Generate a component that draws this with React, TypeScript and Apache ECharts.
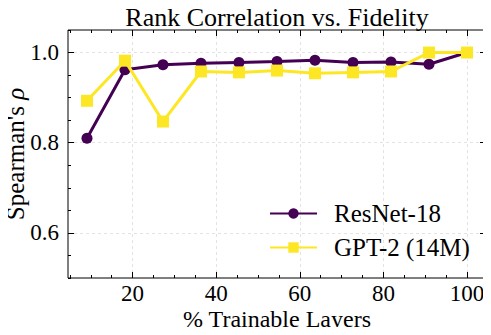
import React, { useEffect, useRef } from "react";
import * as echarts from "echarts";

const xValues = [9.09, 18.18, 27.27, 36.36, 45.45, 54.55, 63.64, 72.73, 81.82, 90.91, 100];
const resnet = [0.81, 0.962, 0.973, 0.976, 0.978, 0.98, 0.983, 0.978, 0.979, 0.974, 1.0];
const gpt2 = [0.893, 0.982, 0.847, 0.958, 0.956, 0.96, 0.954, 0.956, 0.958, 1.0, 1.0];
const xMajor = [20, 40, 60, 80, 100];
const xMinor = [5, 10, 15, 25, 30, 35, 45, 50, 55, 65, 70, 75, 85, 90, 95];
const yMajor = [0.6, 0.8, 1.0];
const yMinor = [0.5, 0.55, 0.65, 0.7, 0.75, 0.85, 0.9, 0.95, 1.05];

const FONT = "Liberation Serif";
const PURPLE = "#440154";
const YELLOW = "#fde725";

export default function App() {
  const ref = useRef<HTMLDivElement>(null);
  useEffect(() => {
    if (!ref.current) return;
    const chart = echarts.init(ref.current, undefined, { renderer: "svg" });
    const xmin = 4.55, xmax = 104.55, ymin = 0.5, ymax = 1.05;
    const baseAxis = (type: "x" | "y") => ({
      type: "value",
      min: type === "x" ? xmin : ymin,
      max: type === "x" ? xmax : ymax,
      axisLine: { show: false },
    });
    const majorTick = (vals: number[]) => ({
      show: true,
      inside: true,
      length: 6,
      customValues: vals,
      lineStyle: { color: "#000", width: 1 },
    });
    const minorTick = (vals: number[]) => ({
      show: true,
      inside: true,
      length: 3,
      customValues: vals,
      lineStyle: { color: "#000", width: 1 },
    });
    const grid = { show: true, lineStyle: { color: "#dcdcdc", type: [3, 3], width: 0.8 } };
    chart.setOption({
      animation: false,
      backgroundColor: "#fff",
      title: {
        text: "Rank Correlation vs. Fidelity",
        left: 277,
        textAlign: "center",
        top: 4,
        padding: 0,
        textStyle: { fontFamily: FONT, fontSize: 26, fontWeight: "normal", color: "#000" },
      },
      grid: {
        left: 68,
        right: 5,
        top: 30,
        bottom: 57,
        outerBoundsMode: "none",
        containLabel: false,
        show: true,
        borderColor: "#000",
        borderWidth: 1,
      },
      legend: {
        left: 264,
        top: 196,
        orient: "vertical",
        itemWidth: 47,
        itemHeight: 13,
        itemGap: 9,
        textStyle: { fontFamily: FONT, fontSize: 25, color: "#000", padding: [0, 0, 0, 12] },
        data: ["ResNet-18", "GPT-2 (14M)"],
      },
      xAxis: [
        {
          ...baseAxis("x"),
          position: "bottom",
          name: "% Trainable Layers",
          nameLocation: "middle",
          nameGap: 29,
          nameMoveOverlap: false,
          nameTextStyle: { fontFamily: FONT, fontSize: 24, color: "#000" },
          axisTick: majorTick(xMajor),
          axisLabel: {
            customValues: xMajor,
            margin: 4,
            fontFamily: FONT,
            fontSize: 23,
            color: "#000",
          },
          splitLine: grid,
        },
        {
          ...baseAxis("x"),
          position: "bottom",
          axisTick: minorTick(xMinor),
          axisLabel: { show: false },
          splitLine: { show: false },
        },
        {
          ...baseAxis("x"),
          position: "top",
          axisTick: majorTick(xMajor),
          axisLabel: { show: false },
          splitLine: { show: false },
        },
        {
          ...baseAxis("x"),
          position: "top",
          axisTick: minorTick(xMinor),
          axisLabel: { show: false },
          splitLine: { show: false },
        },
      ],
      yAxis: [
        {
          ...baseAxis("y"),
          position: "left",
          name: "Spearman's {i|ρ}",
          nameLocation: "middle",
          nameGap: 40,
          nameMoveOverlap: false,
          nameRotate: 90,
          nameTextStyle: {
            fontFamily: FONT,
            fontSize: 25,
            color: "#000",
            rich: { i: { fontFamily: FONT, fontStyle: "italic", fontSize: 25, color: "#000" } },
          },
          axisTick: majorTick(yMajor),
          axisLabel: {
            customValues: yMajor,
            margin: 9,
            fontFamily: FONT,
            fontSize: 23,
            color: "#000",
            formatter: (v: number) => v.toFixed(1),
          },
          splitLine: grid,
        },
        {
          ...baseAxis("y"),
          position: "left",
          axisTick: minorTick(yMinor),
          axisLabel: { show: false },
          splitLine: { show: false },
        },
        {
          ...baseAxis("y"),
          position: "right",
          axisTick: majorTick(yMajor),
          axisLabel: { show: false },
          splitLine: { show: false },
        },
        {
          ...baseAxis("y"),
          position: "right",
          axisTick: minorTick(yMinor),
          axisLabel: { show: false },
          splitLine: { show: false },
        },
      ],
      series: [
        {
          name: "ResNet-18",
          type: "line",
          data: xValues.map((x, i) => [x, resnet[i]]),
          symbol: "circle",
          symbolSize: 11,
          lineStyle: { color: PURPLE, width: 3 },
          itemStyle: { color: PURPLE },
          z: 3,
        },
        {
          name: "GPT-2 (14M)",
          type: "line",
          data: xValues.map((x, i) => [x, gpt2[i]]),
          symbol: "rect",
          symbolSize: 12,
          lineStyle: { color: YELLOW, width: 3 },
          itemStyle: { color: YELLOW },
          z: 4,
        },
      ],
    });
    return () => chart.dispose();
  }, []);
  return <div ref={ref} style={{ width: 491, height: 335, margin: -8 }} />;
}
